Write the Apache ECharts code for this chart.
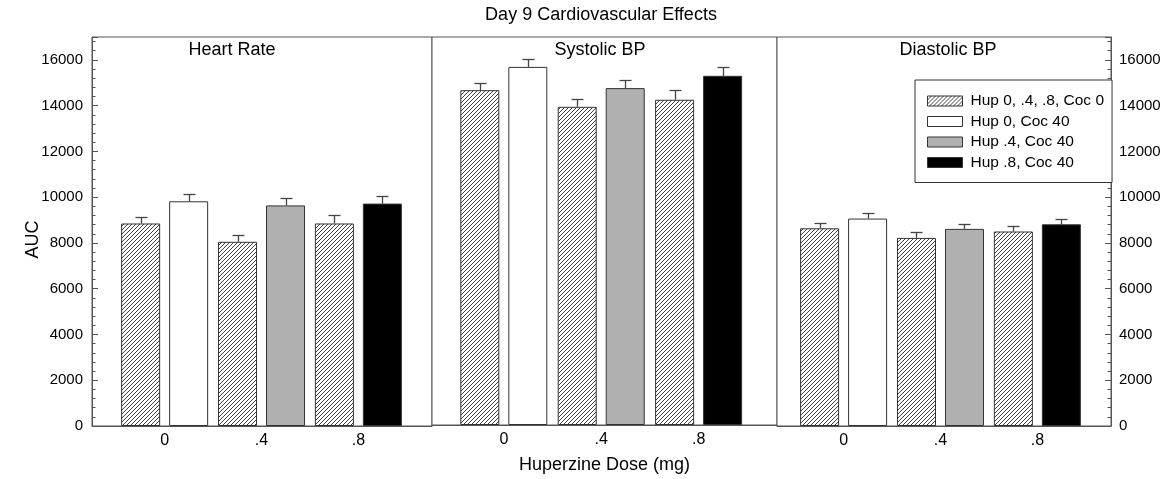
<!DOCTYPE html>
<html>
<head>
<meta charset="utf-8">
<script src="https://cdn.jsdelivr.net/npm/echarts@6/dist/echarts.min.js"></script>
<style>
html,body{margin:0;padding:0;background:#fff;}
#chart{width:1168px;height:479px;}
</style>
</head>
<body>
<div id="chart"></div>
<script>
// ---- data ----
const doses = [0, 0.4, 0.8];
const doseLabels = ['0', '.4', '.8'];
const panelTitles = ['Heart Rate', 'Systolic BP', 'Diastolic BP'];
const seriesNames = ['Hup 0, .4, .8, Coc 0', 'Hup 0, Coc 40', 'Hup .4, Coc 40', 'Hup .8, Coc 40'];
const yTicks = [0, 2000, 4000, 6000, 8000, 10000, 12000, 14000, 16000];

// Hup 0/.4/.8 with saline (Coc 0)
const hrCoc0 = [8850, 8050, 8850];
const sbpCoc0 = [14670, 13940, 14250];
const dbpCoc0 = [8640, 8220, 8500];
const hrCoc0Err = [295, 290, 380];
const sbpCoc0Err = [335, 335, 410];
const dbpCoc0Err = [235, 245, 220];

// Hup 0/.4/.8 with Coc 40
const hrCoc40 = [9820, 9640, 9720];
const sbpCoc40 = [15690, 14760, 15300];
const dbpCoc40 = [9065, 8615, 8815];
const hrCoc40Err = [305, 305, 350];
const sbpCoc40Err = [335, 350, 395];
const dbpCoc40Err = [232, 232, 236];

const coc0 = [hrCoc0, sbpCoc0, dbpCoc0];
const coc0Err = [hrCoc0Err, sbpCoc0Err, dbpCoc0Err];
const coc40 = [hrCoc40, sbpCoc40, dbpCoc40];
const coc40Err = [hrCoc40Err, sbpCoc40Err, dbpCoc40Err];

// ---- layout / style ----
const FONT = '"Liberation Sans", Arial, sans-serif';
const BAR_W = 39, BAR_GAP = 9;
const panels = [
  {left: 92, width: 340, min: -0.300, max: 1.104, titleX: 232},
  {left: 432, width: 345, min: -0.295, max: 1.122, titleX: 600},
  {left: 777, width: 334, min: -0.275, max: 1.104, titleX: 948}
];
const GTOP = 37, GH = 389;
const cocColors = ['#ffffff', '#b0b0b0', '#000000'];

// hatch pattern
const tile = document.createElement('canvas');
tile.width = 4; tile.height = 4;
const tc = tile.getContext('2d');
tc.fillStyle = '#fff'; tc.fillRect(0, 0, 4, 4);
tc.strokeStyle = '#2a2a2a'; tc.lineWidth = 0.9;
for (let k = 0; k <= 2; k++) {
  tc.beginPath(); tc.moveTo(-1, 4 * k + 1); tc.lineTo(4 * k + 1, -1); tc.stroke();
}
const hatch = {image: tile, repeat: 'repeat'};

const grids = [], xAxes = [], yAxes = [], series = [];
panels.forEach((p, i) => {
  grids.push({left: p.left, width: p.width, top: GTOP, height: GH, show: true,
    borderColor: '#555', borderWidth: 1, backgroundColor: '#fff', containLabel: false});
  xAxes.push({
    type: 'value', gridIndex: i, min: p.min, max: p.max,
    axisLine: {show: true, onZero: false, lineStyle: {color: '#555', width: 1}},
    axisTick: {show: false}, splitLine: {show: false},
    axisLabel: {customValues: doses, formatter: v => doseLabels[doses.indexOf(v)],
      color: '#000', fontSize: 16, fontFamily: FONT, margin: 7},
    name: i === 1 ? 'Huperzine Dose (mg)' : '', nameLocation: 'middle', nameGap: 31,
    nameMoveOverlap: false,
    nameTextStyle: {color: '#000', fontSize: 18, fontFamily: FONT}
  });
  const showY = i !== 1;
  yAxes.push({
    type: 'value', gridIndex: i, min: 0, max: 17000, interval: 2000,
    position: i === 2 ? 'right' : 'left',
    show: showY,
    axisLine: {show: true, onZero: false, lineStyle: {color: '#555', width: 1}},
    axisTick: {show: true, inside: true, length: 6, lineStyle: {color: '#555'}},
    minorTick: {show: true, splitNumber: 5, length: 3.5, lineStyle: {color: '#555'}},
    splitLine: {show: false}, minorSplitLine: {show: false},
    axisLabel: {color: '#000', fontSize: 15, fontFamily: FONT, margin: i === 2 ? 8 : 9,
      customValues: yTicks, formatter: v => String(v)},
    name: i === 0 ? 'AUC' : '', nameLocation: 'middle', nameGap: 50,
    nameMoveOverlap: false,
    nameTextStyle: {color: '#000', fontSize: 18, fontFamily: FONT, padding: [0, 16, 0, 0]}
  });
  series.push({
    type: 'bar', name: seriesNames[0], xAxisIndex: i, yAxisIndex: i,
    barWidth: BAR_W, barGap: (BAR_GAP / BAR_W * 100) + '%',
    data: doses.map((d, j) => [d, coc0[i][j]]),
    itemStyle: {color: hatch, borderColor: '#333', borderWidth: 1},
    emphasis: {disabled: true}, z: 2
  });
  cocColors.forEach((c, k) => {
    series.push({
      type: 'bar', name: seriesNames[k + 1], xAxisIndex: i, yAxisIndex: i,
      stack: 'coc' + i, barWidth: BAR_W,
      data: doses.map((d, j) => [d, j === k ? coc40[i][j] : null]),
      itemStyle: {color: c, borderColor: '#333', borderWidth: 1},
      emphasis: {disabled: true}, z: 2
    });
  });
  [[coc0, coc0Err, -1], [coc40, coc40Err, 1]].forEach(([vals, errs, side]) => {
    series.push({
      type: 'custom', name: 'err' + i + side, xAxisIndex: i, yAxisIndex: i, z: 3,
      encode: {x: 0, y: 1},
      data: doses.map((d, j) => [d, vals[i][j], errs[i][j]]),
      renderItem: (params, api) => {
        const off = side * (BAR_W + BAR_GAP) / 2;
        const b = api.coord([api.value(0), api.value(1)]);
        const t = api.coord([api.value(0), api.value(1) + api.value(2)]);
        const cx = Math.round(b[0] + off) + 0.5;
        const ty = Math.round(t[1]) + 0.5;
        const st = {stroke: '#444', lineWidth: 1.3};
        return {type: 'group', children: [
          {type: 'line', shape: {x1: cx, y1: b[1], x2: cx, y2: ty}, style: st},
          {type: 'line', shape: {x1: cx - 6, y1: ty, x2: cx + 6, y2: ty}, style: st}
        ]};
      }
    });
  });
});

const graphics = panels.map((p, i) => ({
  type: 'text', x: p.titleX, y: 50,
  style: {text: panelTitles[i], font: '18px ' + FONT, fill: '#000', textAlign: 'center', textVerticalAlign: 'middle'},
  z: 10
}));
graphics.push({
  type: 'text', x: 601, y: 15,
  style: {text: 'Day 9 Cardiovascular Effects', font: '18px ' + FONT, fill: '#000', textAlign: 'center', textVerticalAlign: 'middle'}
});

const chart = echarts.init(document.getElementById('chart'), null, {renderer: 'canvas'});
chart.setOption({
  animation: false,
  backgroundColor: '#fff',
  grid: grids, xAxis: xAxes, yAxis: yAxes, series: series,
  graphic: graphics,
  tooltip: {show: false},
  legend: {
    data: seriesNames, orient: 'vertical', left: 915, top: 80,
    icon: 'rect', itemWidth: 35, itemHeight: 10, itemGap: 4.5,
    padding: [13, 8, 12, 12], borderColor: '#333', borderWidth: 1, backgroundColor: '#fff',
    selectedMode: false,
    textStyle: {color: '#000', fontSize: 15.5, fontFamily: FONT, padding: [0, 0, 0, 3]},
    itemStyle: {borderColor: '#333', borderWidth: 1}
  }
});
</script>
</body>
</html>
